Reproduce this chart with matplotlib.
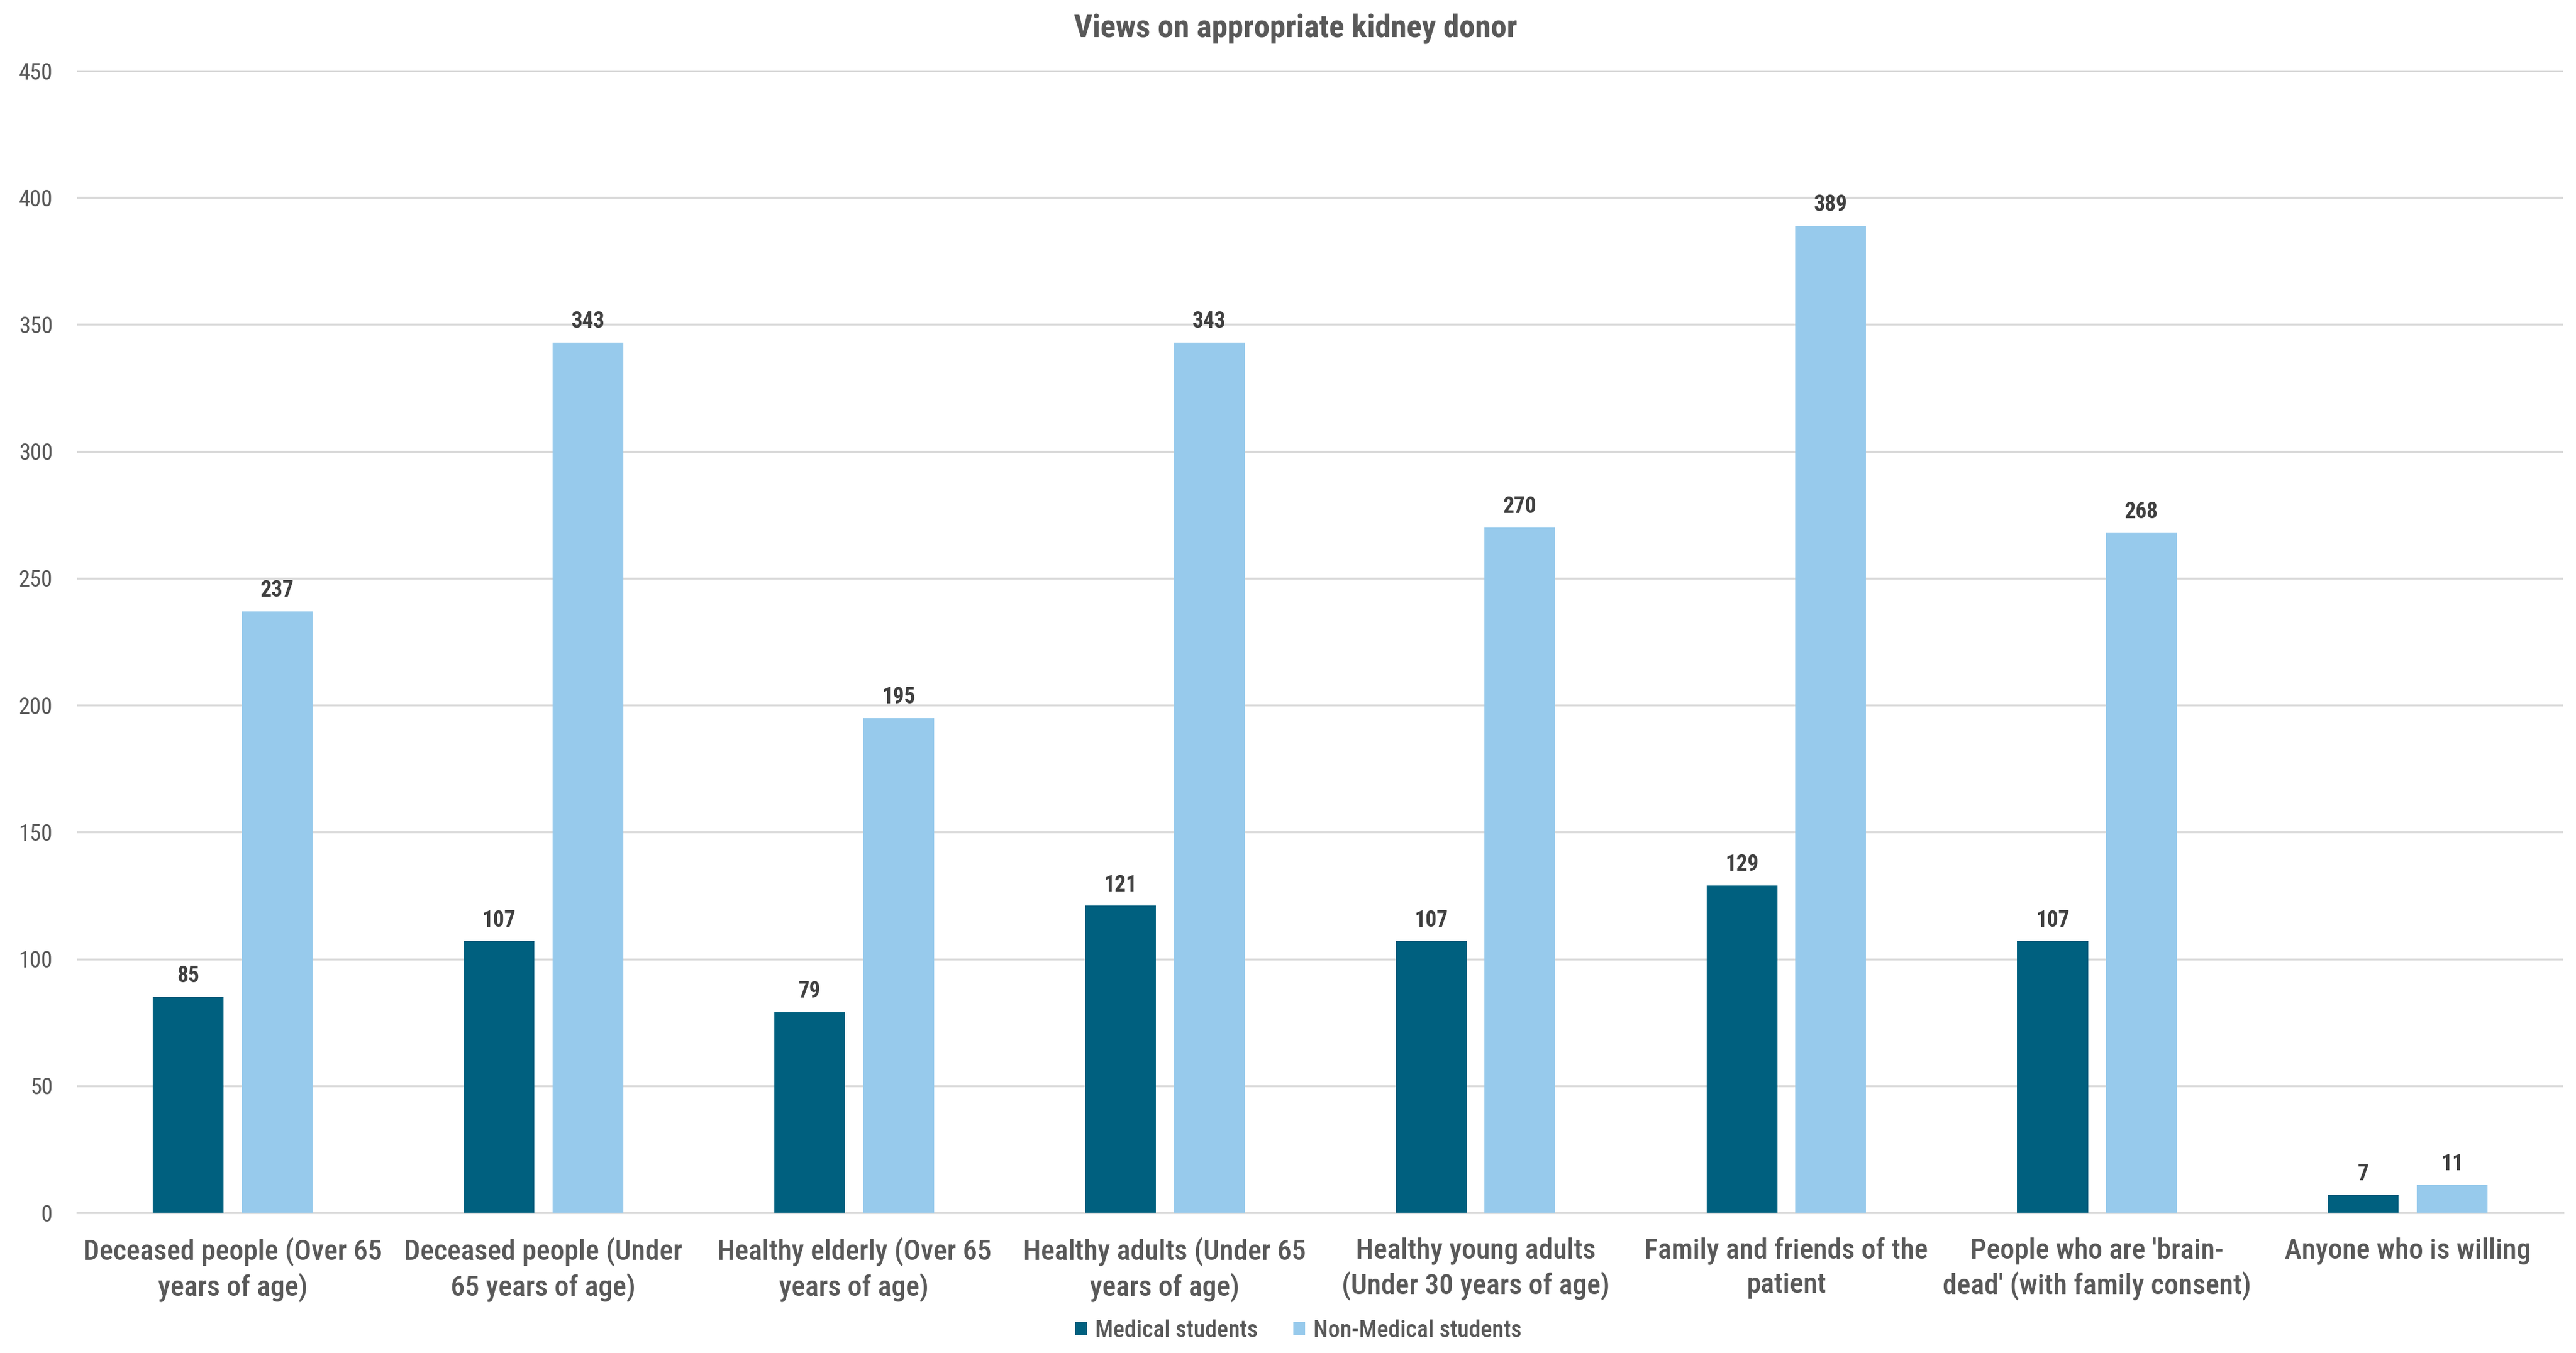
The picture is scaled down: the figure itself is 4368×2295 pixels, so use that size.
import matplotlib
matplotlib.use('Agg')
import matplotlib.pyplot as plt
import numpy as np
from matplotlib import font_manager

# Dados do gráfico
categories = [
    "Deceased people (Over 65\nyears of age)",
    "Deceased people (Under\n65 years of age)",
    "Healthy elderly (Over 65\nyears of age)",
    "Healthy adults (Under 65\nyears of age)",
    "Healthy young adults\n(Under 30 years of age)",
    "Family and friends of the\npatient",
    "People who are 'brain-\ndead' (with family consent)",
    "Anyone who is willing",
]
medical = [85, 107, 79, 121, 107, 129, 107, 7]
non_medical = [237, 343, 195, 343, 270, 389, 268, 11]
series_names = ["Medical students", "Non-Medical students"]
y_ticks = [0, 50, 100, 150, 200, 250, 300, 350, 400, 450]

DARK = "#00607F"
LIGHT = "#97CAEC"
TEXT = "#595959"
GRID = "#D9D9D9"

# Fonte estreita parecida com Aptos Narrow (usa a primeira disponível)
candidates = ["Aptos Narrow", "Arial Narrow", "Liberation Sans Narrow",
              "Roboto Condensed", "Archivo Narrow", "PT Sans Narrow",
              "Fira Sans Condensed", "IBM Plex Sans Condensed",
              "Sofia Sans Condensed", "Encode Sans Condensed",
              "Asap Condensed", "Barlow Semi Condensed", "Open Sans Condensed"]
names = {f.name for f in font_manager.fontManager.ttflist}
family = next((c for c in candidates if c in names), "DejaVu Sans")
plt.rcParams['font.family'] = [family, 'DejaVu Sans']

fig = plt.figure(figsize=(43.68, 22.95), dpi=100)
ax = fig.add_axes([0.030, 0.1037, 0.965, 0.844])

x = np.arange(len(categories))
w = 0.228
off = 0.143
b1 = ax.bar(x - off, medical, w, color=DARK, label=series_names[0], zorder=3)
b2 = ax.bar(x + off, non_medical, w, color=LIGHT, label=series_names[1], zorder=3)

for bars in (b1, b2):
    ax.bar_label(bars, padding=12, fontsize=27, fontweight='bold', color="#404040")

ax.set_xlim(-0.5, len(categories) - 0.5)
ax.set_ylim(0, 450)
ax.set_yticks(y_ticks)
ax.set_xticks(x)
ax.set_xticklabels(categories, fontsize=35, color=TEXT, linespacing=1.3,
                   fontweight='medium')
ax.tick_params(axis='y', labelsize=28, labelcolor=TEXT, length=0, pad=30)
ax.tick_params(axis='x', length=0, pad=30)

ax.grid(axis='y', color=GRID, linewidth=2.5, zorder=0)
for s in ['top', 'right', 'left']:
    ax.spines[s].set_visible(False)
ax.spines['bottom'].set_color(GRID)
ax.spines['bottom'].set_linewidth(2.5)

fig.suptitle("Views on appropriate kidney donor", x=0.503, y=0.99,
             fontsize=39, fontweight='bold', color=TEXT)

fig.legend(loc='center', bbox_to_anchor=(0.504, 0.0166), ncol=2, frameon=False,
           prop={'size': 29, 'weight': 'medium'}, labelcolor=TEXT,
           handlelength=0.5, handleheight=0.5,
           handletextpad=0.35, columnspacing=1.5)

fig.savefig("out.png", dpi=100, facecolor='white')
